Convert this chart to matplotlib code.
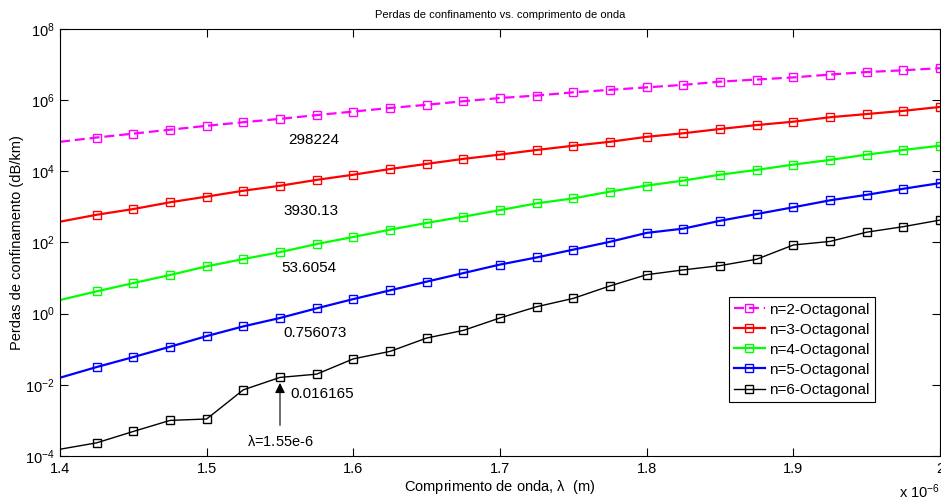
import numpy as np
import matplotlib
matplotlib.use('Agg')
import matplotlib.pyplot as plt

plt.rcParams['font.family'] = ['Liberation Sans', 'DejaVu Sans']
plt.rcParams['mathtext.default'] = 'regular'

# Wavelength grid (m)
wavelength = [1.400e-6, 1.425e-6, 1.450e-6, 1.475e-6, 1.500e-6, 1.525e-6, 1.550e-6,
              1.575e-6, 1.600e-6, 1.625e-6, 1.650e-6, 1.675e-6, 1.700e-6, 1.725e-6,
              1.750e-6, 1.775e-6, 1.800e-6, 1.825e-6, 1.850e-6, 1.875e-6, 1.900e-6,
              1.925e-6, 1.950e-6, 1.975e-6, 2.000e-6]

# Confinement losses (dB/km), log10 values per ring count
log_n2 = [4.83, 4.95, 5.06, 5.17, 5.28, 5.38, 5.4746, 5.58, 5.68, 5.78, 5.87, 5.97,
          6.06, 6.13, 6.22, 6.29, 6.36, 6.43, 6.52, 6.58, 6.64, 6.72, 6.79, 6.84, 6.90]
log_n3 = [2.585, 2.78, 2.94, 3.13, 3.29, 3.455, 3.5944, 3.76, 3.905, 4.065, 4.21, 4.35,
          4.47, 4.60, 4.72, 4.83, 4.97, 5.07, 5.19, 5.30, 5.395, 5.52, 5.61, 5.70, 5.81]
log_n4 = [0.383, 0.627, 0.86, 1.086, 1.33, 1.535, 1.7292, 1.957, 2.155, 2.36, 2.55, 2.725,
          2.91, 3.10, 3.24, 3.43, 3.60, 3.74, 3.905, 4.04, 4.19, 4.32, 4.47, 4.60, 4.72]
log_n5 = [-1.80, -1.50, -1.22, -0.93, -0.63, -0.357, -0.1214, 0.15, 0.41, 0.655, 0.90, 1.14,
          1.38, 1.58, 1.80, 2.02, 2.27, 2.39, 2.61, 2.80, 2.99, 3.185, 3.34, 3.51, 3.67]
log_n6 = [-3.81, -3.63, -3.31, -3.00, -2.96, -2.14, -1.7914, -1.70, -1.27, -1.06, -0.685, -0.47,
          -0.12, 0.195, 0.43, 0.78, 1.095, 1.23, 1.35, 1.53, 1.93, 2.03, 2.29, 2.445, 2.63]

# Values at 1.55 um written on the plot
labels_155 = ['298224', '3930.13', '53.6054', '0.756073', '0.016165']
label_offsets = [(8, -21), (3, -25), (1, -16), (3, -15), (10, -17)]

names = ['n=2-Octagonal', 'n=3-Octagonal', 'n=4-Octagonal', 'n=5-Octagonal', 'n=6-Octagonal']
colors = ['#ff00ff', '#ff0000', '#00ff00', '#0000ff', '#000000']

x_um = np.array(wavelength) * 1e6
series = [np.power(10.0, np.array(v)) for v in (log_n2, log_n3, log_n4, log_n5, log_n6)]

fig = plt.figure(figsize=(9.41, 5.01), dpi=100)
ax = fig.add_axes([60 / 941, 1 - 456 / 501, 880 / 941, 427 / 501])

for i, (y, name, c) in enumerate(zip(series, names, colors)):
    lw = 1.0 if c == '#000000' else 1.6
    ls = (0, (4.5, 2.2)) if i == 0 else '-'
    ax.plot(x_um, y, color=c, lw=lw, ls=ls, marker='s', markersize=5.5,
            markerfacecolor='none', markeredgewidth=1.0, markevery=slice(1, None),
            label=name)

i155 = 6
for y, txt, off in zip(series, labels_155, label_offsets):
    ax.annotate(txt, xy=(x_um[i155], y[i155]), xytext=off, textcoords='offset pixels',
                ha='left', va='center', fontsize=11)

ax.annotate(r'$\lambda$=1.55e-6', xy=(x_um[i155], series[4][i155]),
            xytext=(x_um[i155], 2.6e-4), ha='center', va='center', fontsize=10.5,
            arrowprops=dict(arrowstyle='-|>', color='black', lw=0.8,
                            mutation_scale=15, shrinkA=4, shrinkB=4))

ax.set_yscale('log')
ax.set_xlim(1.4, 2.0)
ax.set_ylim(1e-4, 1e8)
ax.set_xticks([1.4, 1.5, 1.6, 1.7, 1.8, 1.9, 2.0])
ax.set_xticklabels(['1.4', '1.5', '1.6', '1.7', '1.8', '1.9', '2'])
ax.set_yticks([1e-4, 1e-2, 1e0, 1e2, 1e4, 1e6, 1e8])
ax.set_yticklabels([r'$10^{%d}$' % e for e in (-4, -2, 0, 2, 4, 6, 8)])
ax.yaxis.set_minor_locator(matplotlib.ticker.NullLocator())
ax.tick_params(which='both', direction='in', top=True, right=True, length=6,
               width=0.8, labelsize=10.5, pad=4)
for s in ax.spines.values():
    s.set_linewidth(0.8)

ax.set_xlabel(r'Comprimento de onda, $\lambda$  (m)', fontsize=10.5, labelpad=2)
ax.set_ylabel('Perdas de confinamento (dB/km)', fontsize=10.5, va='center')
ax.yaxis.set_label_coords(-43 / 880, 0.5)
ax.set_title('Perdas de confinamento vs. comprimento de onda', fontsize=8, pad=8)
fig.text(940 / 941, 1 - 492 / 501, r'x $10^{-6}$', ha='right', va='center', fontsize=10.5)

leg = ax.legend(loc='upper left', bbox_to_anchor=(0.760, 0.372), fontsize=11,
                frameon=True, fancybox=False, edgecolor='black', framealpha=1,
                handlelength=2.0, handletextpad=0.3, labelspacing=0.4,
                borderpad=0.35, borderaxespad=0)
leg.get_frame().set_linewidth(0.8)
for h in leg.legend_handles:
    h.set_markevery([1])

fig.savefig('out.png', dpi=100)
